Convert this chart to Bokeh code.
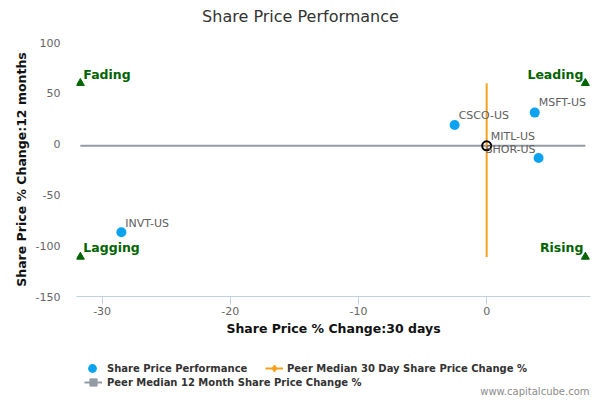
from bokeh.plotting import figure
from bokeh.layouts import column
from bokeh.models import ColumnDataSource, FixedTicker, Label, Legend, LegendItem
from bokeh.core.properties import value
from bokeh.embed import file_html
from bokeh.resources import INLINE

# ---------------- data ----------------
companies = ["CSCO-US", "MSFT-US", "SHOR-US", "INVT-US"]
change_30d = [-2.5, 3.75, 4.05, -28.5]
change_12m = [18.8, 31.0, -13.6, -86.8]

focus_company = ["MITL-US"]
focus_30d = [0.0]
focus_12m = [-1.7]

peer_median_30d = 0.0
peer_median_12m = -1.7

quadrant_names = ["Fading", "Leading", "Lagging", "Rising"]
quadrant_x = [-31.7, 7.7, -31.7, 7.7]
quadrant_y = [60.0, 60.0, -111.0, -111.0]

x_ticks = [-30, -20, -10, 0]
x_tick_labels = ["-30", "-20", "-10", "0"]
y_ticks = [-150, -100, -50, 0, 50, 100]
y_tick_labels = ["-150", "-100", "-50", "0", "50", "100"]

# ---------------- styles ----------------
FONT = "DejaVu Sans"
BLUE = "#0ba3f0"
ORANGE = "#f7a11a"
GRAY = "#959ba5"
GREEN = "#006400"
FRAME_LEFT = 76  # frames of the stacked figures are aligned on this edge


def bare(fig):
    fig.outline_line_color = None
    fig.grid.visible = False
    fig.background_fill_color = "white"
    fig.border_fill_color = "white"
    return fig


# ---- title strip ----
tf = bare(figure(width=600, height=30, output_backend="svg", toolbar_location=None,
                 x_axis_type=None, y_axis_type=None, x_range=(0, 1), y_range=(0, 1),
                 min_border=0))
tf.add_layout(Label(x=300 - FRAME_LEFT, y=14, x_units="screen", y_units="screen",
                    text="Share Price Performance", text_align="center", text_baseline="middle",
                    text_font=FONT, text_font_size="16px", text_color="#333333"))

# ---- main chart ----
p = bare(figure(width=600, height=315, output_backend="svg", toolbar_location=None,
                x_range=(-32.0, 8.1), y_range=(-150, 100),
                min_border_left=FRAME_LEFT, min_border_right=10, min_border_top=12,
                min_border_bottom=49))

xa = p.xaxis[0]
xa.ticker = FixedTicker(ticks=x_ticks)
xa.major_label_overrides = dict(zip(x_ticks, x_tick_labels))
xa.axis_line_color = "#C0D0E0"
xa.major_tick_line_color = "#C0D0E0"
xa.major_tick_in = 0
xa.major_tick_out = 8
xa.minor_tick_line_color = None
xa.major_label_standoff = 2
xa.major_label_text_font = FONT
xa.major_label_text_font_size = "11px"
xa.major_label_text_color = "#666666"
xa.axis_label = "Share Price % Change:30 days"
xa.axis_label_text_font = FONT
xa.axis_label_text_font_size = "12.5px"
xa.axis_label_text_font_style = "bold"
xa.axis_label_text_color = "#111111"
xa.axis_label_standoff = 3

ya = p.yaxis[0]
ya.ticker = FixedTicker(ticks=y_ticks)
ya.major_label_overrides = dict(zip(y_ticks, y_tick_labels))
ya.axis_line_color = None
ya.major_tick_line_color = None
ya.major_tick_in = 0
ya.major_tick_out = 0
ya.minor_tick_line_color = None
ya.minor_tick_in = 0
ya.minor_tick_out = 0
ya.major_label_standoff = 16
ya.major_label_text_font = FONT
ya.major_label_text_font_size = "11px"
ya.major_label_text_color = "#666666"
ya.axis_label = "Share Price % Change:12 months"
ya.axis_label_text_font = FONT
ya.axis_label_text_font_size = "12.5px"
ya.axis_label_text_font_style = "bold"
ya.axis_label_text_color = "#111111"
ya.axis_label_standoff = 4

# peer median lines
h_x = [min(quadrant_x), max(quadrant_x)]
h_y = [peer_median_12m, peer_median_12m]
v_x = [peer_median_30d, peer_median_30d]
v_y = [min(quadrant_y), max(quadrant_y)]
p.line(x=h_x, y=h_y, line_color=GRAY, line_width=2)
p.line(x=v_x, y=v_y, line_color=ORANGE, line_width=2)

# quadrant markers
p.scatter(x=quadrant_x, y=quadrant_y, marker="triangle", size=8, color=GREEN)

# company points
src = ColumnDataSource(dict(x=change_30d, y=change_12m, name=companies))
p.scatter(x="x", y="y", source=src, marker="circle", size=10, fill_color=BLUE, line_color=None)
p.scatter(x=focus_30d, y=focus_12m, marker="circle", size=9,
          fill_color=None, line_color="black", line_width=2)

# point labels
right_aligned = {"SHOR-US"}
y_off = {"CSCO-US": -9, "MSFT-US": -10, "SHOR-US": -8, "INVT-US": -9, "MITL-US": -9}
all_names = companies + focus_company
all_x = change_30d + focus_30d
all_y = change_12m + focus_12m
for align, xo in (("left", 4), ("right", -3)):
    sel = [i for i, n in enumerate(all_names) if (n in right_aligned) == (align == "right")]
    s = ColumnDataSource(dict(x=[all_x[i] for i in sel], y=[all_y[i] for i in sel],
                              name=[all_names[i] for i in sel],
                              yo=[y_off[all_names[i]] for i in sel]))
    p.text(x="x", y="y", text="name", source=s, x_offset=xo, y_offset="yo",
           text_font=value(FONT), text_font_size="11px", text_color="#606060",
           text_align=align, text_baseline="middle")

# quadrant labels
for align, xo in (("left", 3), ("right", -2)):
    sel = [i for i in range(len(quadrant_names))
           if (quadrant_x[i] > peer_median_30d) == (align == "right")]
    s = ColumnDataSource(dict(x=[quadrant_x[i] for i in sel], y=[quadrant_y[i] for i in sel],
                              name=[quadrant_names[i] for i in sel]))
    p.text(x="x", y="y", text="name", source=s, x_offset=xo, y_offset=-9,
           text_font=value(FONT), text_font_size="12.5px", text_font_style="bold",
           text_color=GREEN, text_align=align, text_baseline="middle")

# ---- legend strip ----
lf = bare(figure(width=600, height=55, output_backend="svg", toolbar_location=None,
                 x_axis_type=None, y_axis_type=None, x_range=(0, 1), y_range=(0, 1),
                 min_border=0))
# hidden copies of the series, used only to draw the legend swatches
leg_pts = lf.scatter(x="x", y="y", source=src, marker="circle", size=10,
                     fill_color=BLUE, line_color=None, visible=False)
leg_vline = lf.line(x=v_x, y=v_y, line_color=ORANGE, line_width=2, visible=False)
leg_diam = lf.scatter(x=[peer_median_30d], y=[peer_median_12m], marker="diamond", size=8,
                      color=ORANGE, visible=False)
leg_hline = lf.line(x=h_x, y=h_y, line_color=GRAY, line_width=2, visible=False)
leg_sq = lf.scatter(x=[peer_median_30d], y=[peer_median_12m], marker="square", size=8,
                    color=GRAY, visible=False)


def add_legend(label, renderers, loc, gw, gh, standoff):
    leg = Legend(items=[LegendItem(label=label, renderers=renderers)], location=loc,
                 orientation="horizontal", glyph_width=gw, glyph_height=gh,
                 label_standoff=standoff, padding=0, margin=0, spacing=0,
                 border_line_color=None, background_fill_alpha=0,
                 label_text_font=FONT, label_text_font_size="10px",
                 label_text_font_style="bold", label_text_color="#333333")
    lf.add_layout(leg)


add_legend("Share Price Performance", [leg_pts], (81 - FRAME_LEFT, 21), 22, 22, 4)
add_legend("Peer Median 30 Day Share Price Change %", [leg_vline, leg_diam],
           (265 - FRAME_LEFT, 22), 18, 20, 4)
add_legend("Peer Median 12 Month Share Price Change %", [leg_hline, leg_sq],
           (84 - FRAME_LEFT, 8), 18, 20, 5)

lf.add_layout(Label(x=589 - FRAME_LEFT, y=9, x_units="screen", y_units="screen",
                    text="www.capitalcube.com", text_align="right", text_baseline="middle",
                    text_font=FONT, text_font_size="10px", text_color="#8c8c8c"))

layout = column(tf, p, lf, spacing=0)
open("out.html", "w").write(file_html(layout, INLINE))
